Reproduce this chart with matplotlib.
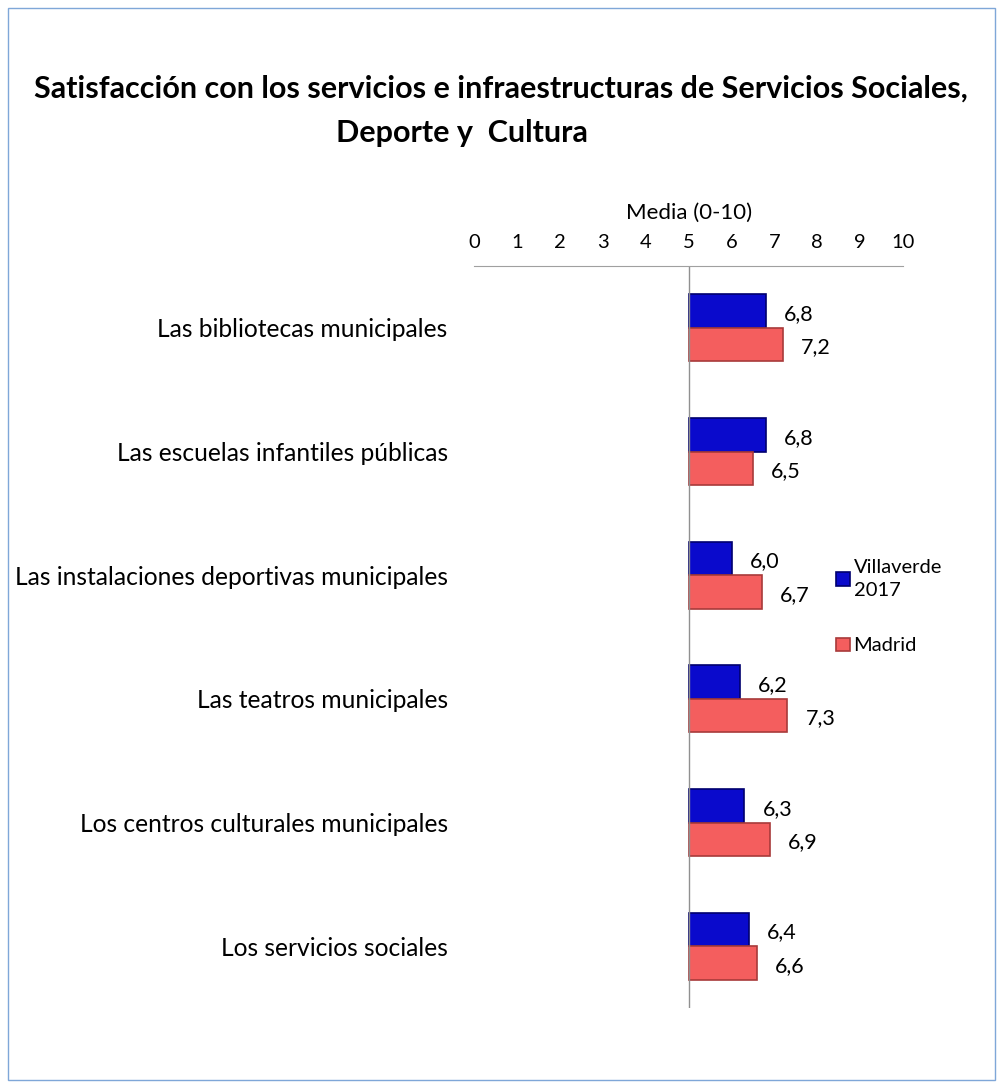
import numpy as np
import matplotlib.pyplot as plt
from matplotlib.patches import Rectangle

plt.rcParams['font.family'] = ['Lato', 'DejaVu Sans']

categorias = ['Las bibliotecas municipales', 'Las escuelas infantiles públicas',
              'Las instalaciones deportivas municipales', 'Las teatros municipales',
              'Los centros culturales municipales', 'Los servicios sociales']
villaverde = [6.8, 6.8, 6.0, 6.2, 6.3, 6.4]
madrid = [7.2, 6.5, 6.7, 7.3, 6.9, 6.6]
series_names = ['Villaverde\n2017', 'Madrid']
ticks = list(range(0, 11))

fig = plt.figure(figsize=(9.98, 10.88), dpi=100)
fig.patches.append(Rectangle((0.008, 0.007), 0.989, 0.986, transform=fig.transFigure,
                             fill=False, edgecolor='#7FA7D8', linewidth=1))

fig.text(0.502, 0.919, 'Satisfacción con los servicios e infraestructuras de Servicios Sociales,',
         ha='center', va='center', fontsize=22, fontweight='bold')
fig.text(0.463, 0.878, 'Deporte y  Cultura', ha='center', va='center',
         fontsize=22, fontweight='bold')

ax = fig.add_axes([0.475, 0.0735, 0.43, 0.682])
y = np.arange(len(categorias))
h = 0.27
base = 5
b1 = ax.barh(y - h / 2, np.array(villaverde) - base, left=base, height=h,
             color='#0A0ACC', edgecolor='#00006E', linewidth=1.2, label=series_names[0])
b2 = ax.barh(y + h / 2, np.array(madrid) - base, left=base, height=h,
             color='#F45E5E', edgecolor='#A83A3A', linewidth=1.2, label=series_names[1])

for yy, v in zip(y, villaverde):
    ax.annotate(f'{v:.1f}'.replace('.', ','), (v, yy - h / 2), xytext=(13, -2),
                textcoords='offset points', ha='left', va='center', fontsize=15.5)
for yy, v in zip(y, madrid):
    ax.annotate(f'{v:.1f}'.replace('.', ','), (v, yy + h / 2), xytext=(13, -2),
                textcoords='offset points', ha='left', va='center', fontsize=15.5)

ax.set_xlim(0, 10)
ax.set_ylim(len(categorias) - 0.5, -0.5)
ax.set_xticks(ticks)
ax.xaxis.tick_top()
ax.xaxis.set_label_position('top')
ax.set_xlabel('Media (0-10)', fontsize=16, labelpad=11)
ax.tick_params(axis='x', length=0, labelsize=14.5, pad=11)
ax.set_yticks(y)
ax.set_yticklabels(categorias, fontsize=17.7)
ax.tick_params(axis='y', length=0, pad=19)
for s in ['left', 'right', 'bottom']:
    ax.spines[s].set_visible(False)
ax.spines['top'].set_color('#A0A0A0')
ax.axvline(base, color='#909090', linewidth=1)

leg = fig.legend(handles=[b1, b2], labels=series_names, loc='upper left',
                 bbox_to_anchor=(0.82, 0.503), frameon=False, fontsize=14.5,
                 handlelength=0.65, handleheight=0.65, handletextpad=0.2, labelspacing=1.9)
for t in leg.get_texts():
    t.set_linespacing(1.45)

fig.savefig('out.png', dpi=100)
